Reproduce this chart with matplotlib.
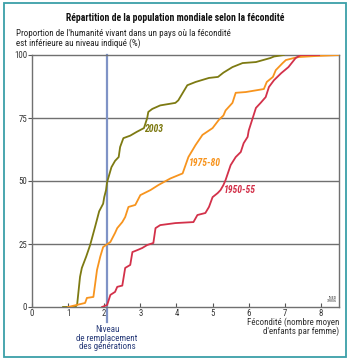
import matplotlib.pyplot as plt
from matplotlib.patches import Rectangle

# fécondité (x) / part de la population (%)
x_2003 = [0.86, 1.2, 1.25, 1.33, 1.38, 1.5, 1.61, 1.75, 1.86, 1.97, 2.0, 2.05, 2.08,
          2.2, 2.3, 2.4, 2.44, 2.53, 2.72, 2.9, 3.1, 3.19, 3.22, 3.33, 3.55, 3.97,
          4.05, 4.3, 4.53, 4.9, 5.15, 5.3, 5.55, 5.83, 6.2, 6.6, 6.7, 6.97]
y_2003 = [0, 0, 1, 12, 15.5, 20, 24.6, 32, 38, 41, 43.6, 46.4, 49.6,
          55.5, 58, 59.5, 63.5, 67, 68, 69.5, 71, 75, 77.4, 78.6, 80, 81,
          82, 88, 89.3, 90.9, 91.3, 93, 95.2, 96.8, 97.2, 98.8, 99.4, 100]

x_1975 = [1.0, 1.47, 1.52, 1.7, 1.8, 1.89, 1.97, 2.17, 2.3, 2.36, 2.5, 2.58, 2.67,
          2.86, 3.0, 3.28, 3.5, 3.83, 4.1, 4.17, 4.33, 4.53, 4.72, 5.0, 5.17, 5.3,
          5.36, 5.55, 5.64, 5.92, 6.42, 6.5, 6.67, 6.75, 6.94, 7.03, 7.25, 7.39,
          7.86, 8.5]
y_1975 = [0, 1.6, 3.6, 4, 14.7, 20, 23.8, 25.8, 29.4, 31.3, 33.7, 35.7, 39.7,
          40.5, 44.4, 46.4, 48.4, 51, 52.6, 53, 59.5, 64.3, 68.3, 71, 74.2, 76,
          78, 81, 85, 85.3, 86.5, 89.3, 91.3, 94, 96.8, 98, 98.8, 99.2,
          99.6, 100]

x_1950 = [1.94, 2.08, 2.17, 2.3, 2.36, 2.5, 2.58, 2.72, 2.78, 2.92, 3.05, 3.19,
          3.36, 3.42, 3.55, 3.97, 4.47, 4.58, 4.8, 4.9, 5.0, 5.14, 5.22, 5.3,
          5.36, 5.5, 5.64, 5.78, 5.86, 5.97, 6.0, 6.2, 6.33, 6.47, 6.56, 6.7,
          6.9, 7.1, 7.3, 7.44, 7.95]
y_1950 = [0, 0.8, 4.8, 6, 8, 8.5, 15.5, 16.7, 21.8, 22.6, 23.4, 24.6,
          25.4, 31.3, 32.5, 33.3, 33.7, 36.5, 37.3, 39.7, 43.6, 45.2, 46.4, 48.4,
          50.4, 56.3, 59.5, 61.5, 65, 67.5, 70, 79, 81, 83.3, 87.3, 90,
          92.8, 95.2, 98.8, 100, 100]

x_ticks = [0, 1, 2, 3, 4, 5, 6, 7, 8]
y_ticks = [0, 25, 50, 75, 100]
niveau_remplacement = 2.08

plt.rcParams['font.family'] = ['Roboto Condensed', 'DejaVu Sans']

fig = plt.figure(figsize=(3.5, 3.64), dpi=100)
ax = fig.add_axes([32 / 350, 1 - 307 / 364, 307 / 350, 252 / 364])

for y in [25, 50, 75]:
    ax.axhline(y, color='#707070', lw=1, zorder=1)

ax.plot(x_2003, y_2003, color='#7d7a12', lw=1.3, zorder=3)
ax.plot(x_1975, y_1975, color='#f7941e', lw=1.3, zorder=3)
ax.plot(x_1950, y_1950, color='#d3314a', lw=1.3, zorder=3)

ax.axvline(niveau_remplacement, ymin=-0.06, ymax=1, color='#7f93c6', lw=1.6,
           zorder=2, clip_on=False)

ax.text(3.36, 70.6, '2003', color='#7d7a12', fontsize=7, fontweight='bold',
        style='italic', ha='center', va='center')
ax.text(4.8, 57, '1975-80', color='#f7941e', fontsize=7, fontweight='bold',
        style='italic', ha='center', va='center')
ax.text(5.75, 46.4, '1950-55', color='#d3314a', fontsize=7, fontweight='bold',
        style='italic', ha='center', va='center')

ax.set_xlim(0, 8.5)
ax.set_ylim(0, 100)
ax.set_xticks(x_ticks)
ax.set_yticks(y_ticks)
ax.tick_params(labelsize=6.3, length=3, width=0.8, color='#555555', pad=0.5,
               labelcolor='#333333')
ax.tick_params(axis='x', direction='in', pad=1.5)
for s in ax.spines.values():
    s.set_color('#707070')
    s.set_linewidth(1)

ax.text(8.43, 1.5, 'INED\n39806', fontsize=3, ha='right', va='bottom',
        color='#444444', linespacing=0.9)

fig.text(107 / 350, 1 - 325 / 364, 'Niveau\nde remplacement\ndes générations',
         fontsize=6.5, color='#2a3d7a', ha='center', va='top', linespacing=0.95)
fig.text(339 / 350, 1 - 317.5 / 364, "Fécondité (nombre moyen\nd'enfants par femme)",
         fontsize=6.5, color='#333333', ha='right', va='top', linespacing=0.92)
fig.text(16 / 350, 1 - 29 / 364,
         "Proportion de l'humanité vivant dans un pays où la fécondité\n"
         "est inférieure au niveau indiqué (%)",
         fontsize=6.5, color='#222222', ha='left', va='top', linespacing=1.0)
fig.text(0.5, 1 - 18 / 364, 'Répartition de la population mondiale selon la fécondité',
         fontsize=7, fontweight='bold', color='#111111', ha='center', va='center')

fig.patches.append(Rectangle((4 / 350, 1 - 357 / 364), 342 / 350, 354 / 364,
                             transform=fig.transFigure, fill=False,
                             edgecolor='#3a9fa8', lw=1.3))

fig.savefig('out.png', dpi=100)
